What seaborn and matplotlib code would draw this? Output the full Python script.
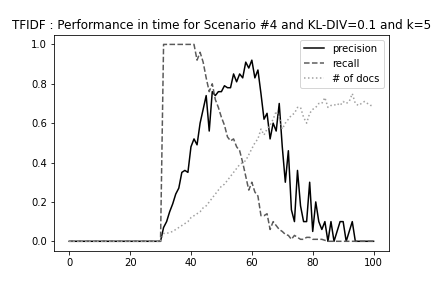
import numpy as np
import pandas as pd
import matplotlib
matplotlib.use("Agg")
import matplotlib.pyplot as plt
import seaborn as sns

steps = list(range(101))

precision = [0.0] * 31 + [
    0.07, 0.10, 0.15, 0.19, 0.24, 0.27, 0.35, 0.36, 0.35,            # 31-39
    0.48, 0.52, 0.49, 0.60, 0.67, 0.74, 0.56, 0.76, 0.74, 0.76,      # 40-49
    0.76, 0.79, 0.78, 0.78, 0.85, 0.81, 0.85, 0.83, 0.91, 0.88,      # 50-59
    0.92, 0.83, 0.87, 0.75, 0.62, 0.65, 0.52, 0.60, 0.56, 0.70,      # 60-69
    0.48, 0.30, 0.46, 0.16, 0.10, 0.36, 0.18, 0.10, 0.10, 0.30,      # 70-79
    0.05, 0.20, 0.10, 0.06, 0.10, 0.00, 0.10, 0.00, 0.05, 0.10,      # 80-89
    0.10, 0.00, 0.05, 0.10, 0.00, 0.00, 0.00, 0.00, 0.00, 0.00,      # 90-99
    0.00]

recall = [0.0] * 31 + [1.0] * 11 + [
    0.92, 0.96, 0.91, 0.83, 0.76, 0.80, 0.72, 0.68,                  # 42-49
    0.63, 0.59, 0.53, 0.51, 0.52, 0.48, 0.46, 0.40, 0.33, 0.26,      # 50-59
    0.30, 0.25, 0.23, 0.13, 0.13, 0.14, 0.06, 0.10, 0.08, 0.06,      # 60-69
    0.05, 0.035, 0.03, 0.01, 0.03, 0.02, 0.01, 0.01, 0.02, 0.02,     # 70-79
    0.01, 0.01, 0.01, 0.01, 0.005, 0.0, 0.0, 0.0, 0.0, 0.0,          # 80-89
    0.0, 0.0, 0.0, 0.0, 0.0, 0.0, 0.0, 0.0, 0.0, 0.0,                # 90-99
    0.0]

n_docs = [0.0] * 31 + [
    0.04, 0.04, 0.045, 0.05, 0.06, 0.07, 0.08, 0.09, 0.10,           # 31-39
    0.12, 0.13, 0.14, 0.15, 0.17, 0.18, 0.20, 0.22, 0.24, 0.26,      # 40-49
    0.28, 0.29, 0.31, 0.33, 0.35, 0.37, 0.39, 0.40, 0.41, 0.44,      # 50-59
    0.47, 0.50, 0.52, 0.57, 0.54, 0.57, 0.59, 0.62, 0.66, 0.63,      # 60-69
    0.57, 0.60, 0.62, 0.64, 0.65, 0.68, 0.68, 0.63, 0.60, 0.65,      # 70-79
    0.67, 0.68, 0.70, 0.70, 0.73, 0.68, 0.69, 0.69, 0.70, 0.69,      # 80-89
    0.71, 0.70, 0.71, 0.75, 0.70, 0.69, 0.70, 0.71, 0.70, 0.69,      # 90-99
    0.69]

df = pd.DataFrame({"t": steps, "precision": precision, "recall": recall, "# of docs": n_docs})

fig, ax = plt.subplots(figsize=(6, 4), dpi=72)
fig.subplots_adjust(bottom=0.128)
sns.lineplot(data=df, x="t", y="precision", ax=ax, color="black", linestyle="-", label="precision")
sns.lineplot(data=df, x="t", y="recall", ax=ax, color="#5a5a5a", linestyle="--", label="recall")
sns.lineplot(data=df, x="t", y="# of docs", ax=ax, color="#a0a0a0", linestyle=":", label="# of docs")
ax.set_xlabel("")
ax.set_ylabel("")
ax.set_title("TFIDF : Performance in time for Scenario #4 and KL-DIV=0.1 and k=5")
ax.legend(loc="upper right")
plt.savefig("out.png", dpi=72)
